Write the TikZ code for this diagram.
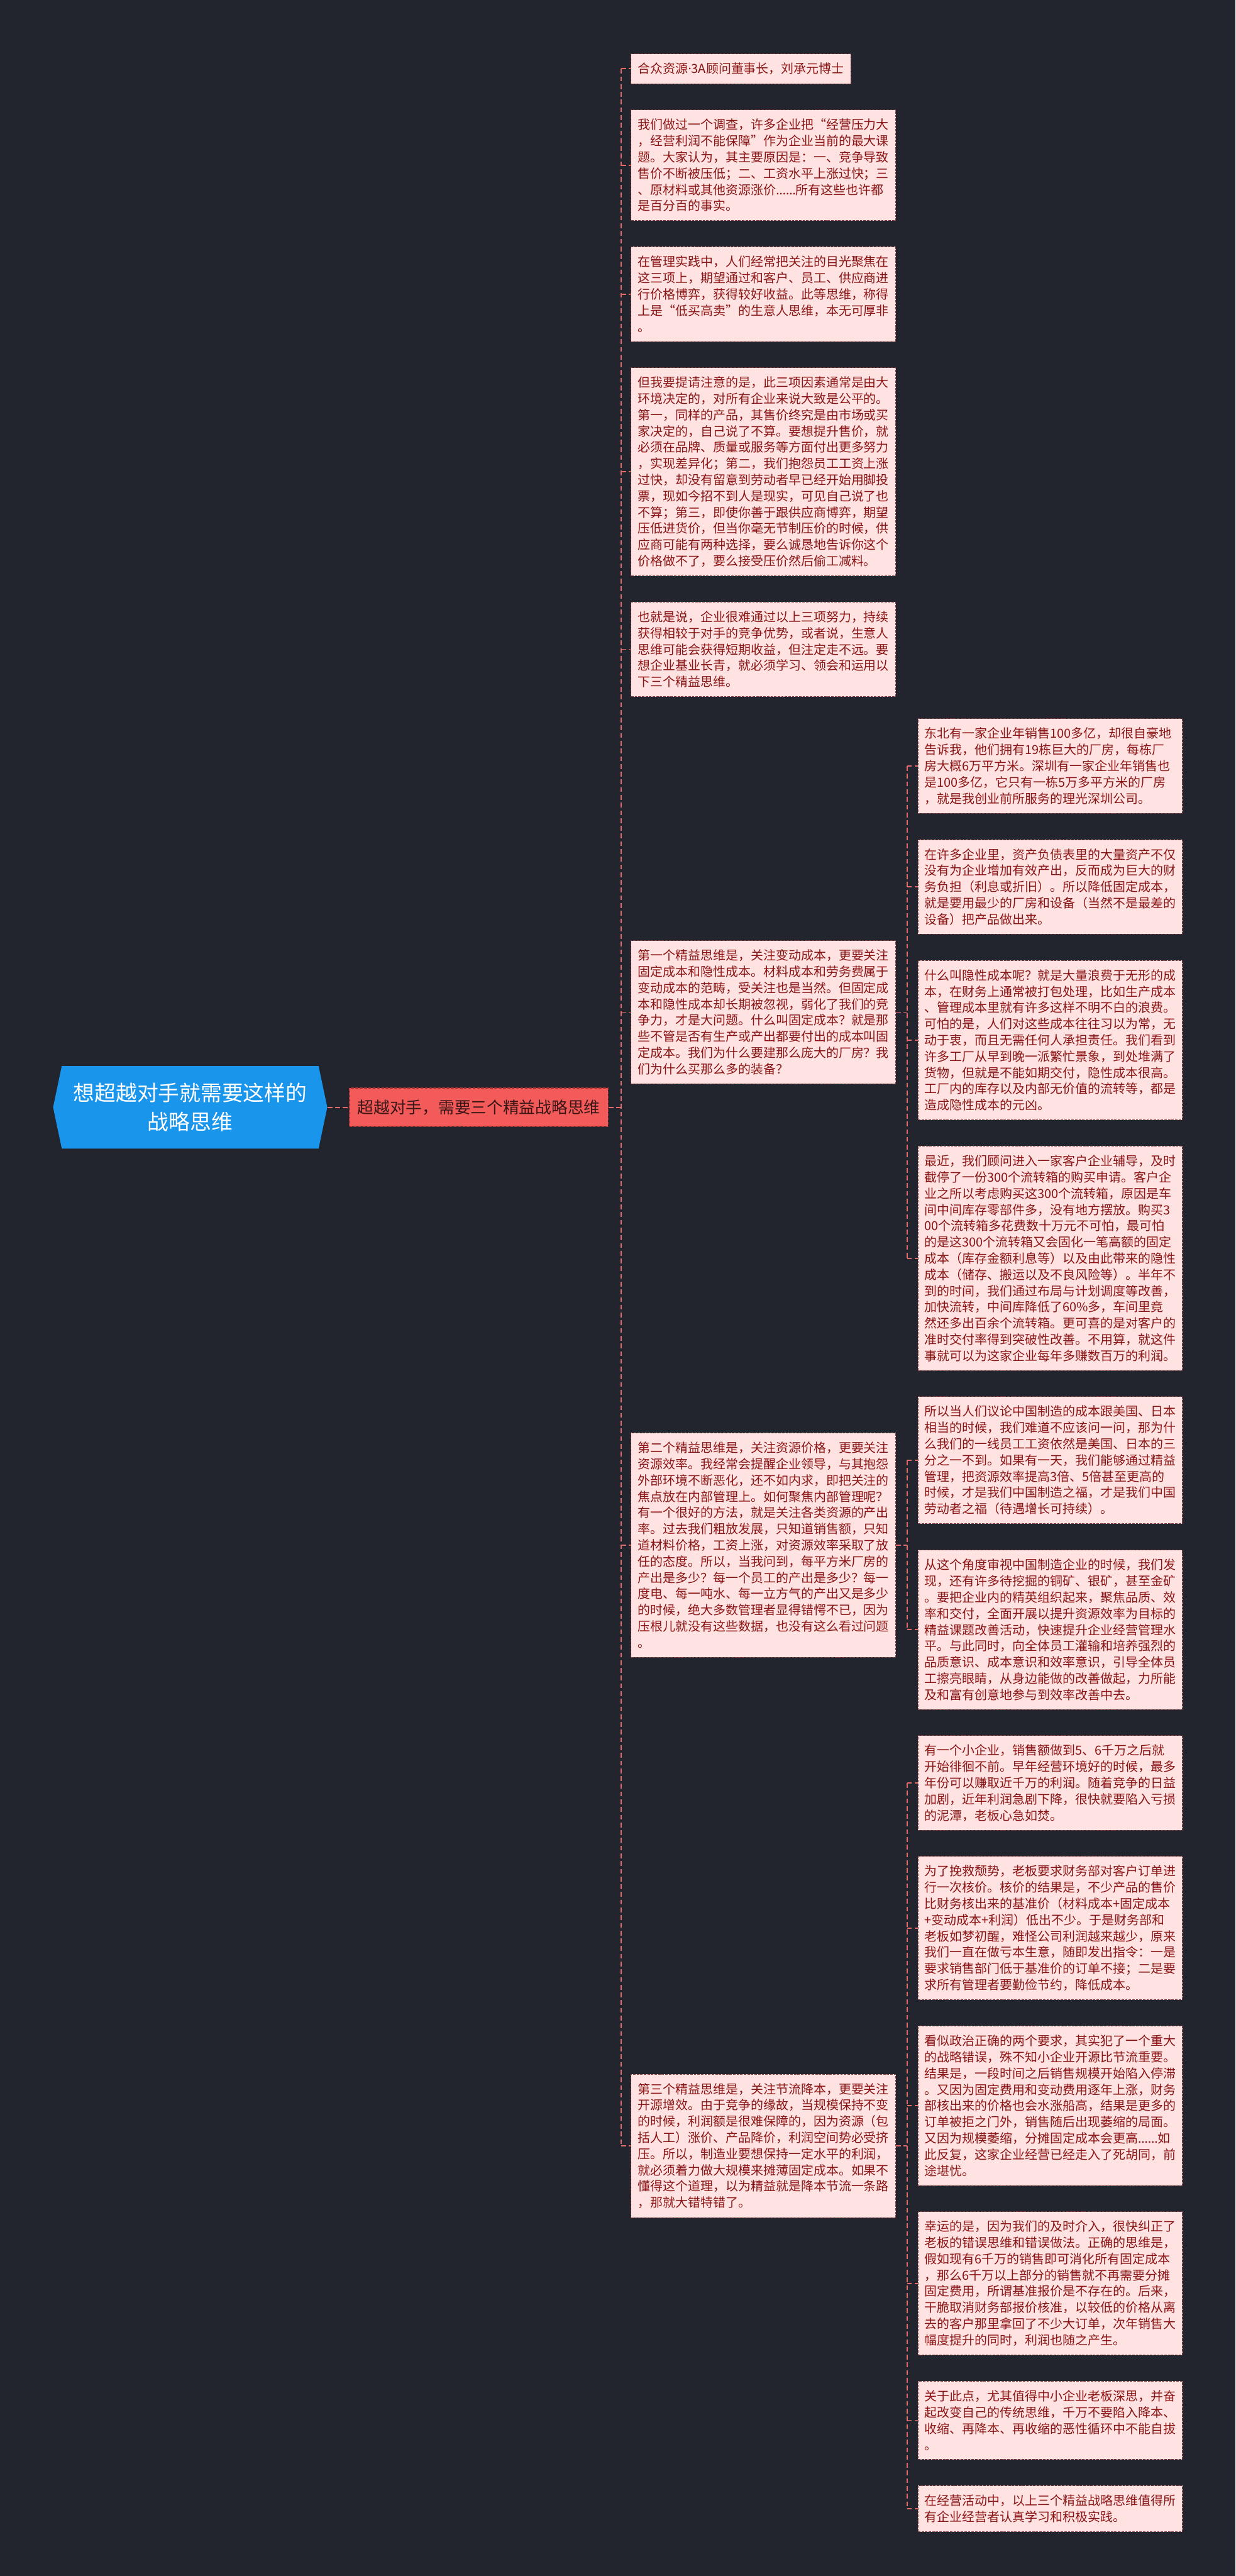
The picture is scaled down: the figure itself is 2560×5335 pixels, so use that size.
\documentclass[tikz,border=0pt]{standalone}
\usepackage{fontspec}
\setmainfont{Noto Sans CJK SC}
\newfontfamily\latinfont{Noto Sans}
\usetikzlibrary{positioning,calc}
\definecolor{mbg}{HTML}{22252E}
\definecolor{mblue}{HTML}{1A95EC}
\definecolor{mred}{HTML}{F35B5B}
\definecolor{mrededge}{HTML}{9E2F2F}
\definecolor{mdark}{HTML}{3A1616}
\definecolor{mline}{HTML}{E36A68}
\definecolor{mpink}{HTML}{FFE3E3}
\definecolor{mmaroon}{HTML}{8B1515}
\definecolor{medge}{HTML}{7E3C3C}

\begin{document}
\begin{tikzpicture}[x=0.5pt,y=-0.5pt,node distance=26.5pt, every node/.style={font=\fontsize{13}{16.8}\selectfont,align=left,inner sep=0pt}, note/.style={fill=mpink,draw=medge,line width=0.6pt,dash pattern=on 2.5pt off 1.2pt,text=mmaroon,inner xsep=7pt}, leaf/.style={note,text width=260pt,minimum height={#1*16.8pt+14pt}}, hub/.style={text=white,font=\fontsize{22}{29.5}\selectfont,align=center,minimum width=284pt,minimum height=85.5pt}, branch/.style={fill=mred,draw=mrededge,line width=0.8pt,dash pattern=on 3pt off 1.5pt,text=mdark,font=\fontsize{16.75}{20}\selectfont,align=center,minimum width=268pt,minimum height=40pt}, link/.style={draw=mline,line width=1.2pt,dash pattern=on 5pt off 3pt}]
\useasboundingbox (0,0) rectangle (2560,5335);
\fill[mbg] (0,0) rectangle (2560,5335);
% first level notes
\node[note,minimum height=30.8pt,anchor=north west] (b1) at (1307,111) {合众资源{\latinfont ·}3A顾问董事长，刘承元博士};
\node[leaf=6,below=of b1.south west,anchor=north west] (b2) {我们做过一个调查，许多企业把“经营压力大\\，经营利润不能保障”作为企业当前的最大课\\题。大家认为，其主要原因是：一、竞争导致\\售价不断被压低；二、工资水平上涨过快；三\\、原材料或其他资源涨价{\latinfont ……}所有这些也许都\\是百分百的事实。};
\node[leaf=5,below=of b2] (b3) {在管理实践中，人们经常把关注的目光聚焦在\\这三项上，期望通过和客户、员工、供应商进\\行价格博弈，获得较好收益。此等思维，称得\\上是“低买高卖”的生意人思维，本无可厚非\\。};
\node[leaf=12,below=of b3] (b4) {但我要提请注意的是，此三项因素通常是由大\\环境决定的，对所有企业来说大致是公平的。\\第一，同样的产品，其售价终究是由市场或买\\家决定的，自己说了不算。要想提升售价，就\\必须在品牌、质量或服务等方面付出更多努力\\，实现差异化；第二，我们抱怨员工工资上涨\\过快，却没有留意到劳动者早已经开始用脚投\\票，现如今招不到人是现实，可见自己说了也\\不算；第三，即使你善于跟供应商博弈，期望\\压低进货价，但当你毫无节制压价的时候，供\\应商可能有两种选择，要么诚恳地告诉你这个\\价格做不了，要么接受压价然后偷工减料。};
\node[leaf=5,below=of b4] (b5) {也就是说，企业很难通过以上三项努力，持续\\获得相较于对手的竞争优势，或者说，生意人\\思维可能会获得短期收益，但注定走不远。要\\想企业基业长青，就必须学习、领会和运用以\\下三个精益思维。};
% second level notes
\node[leaf=5,anchor=north west] (r1) at (1901,1488) {东北有一家企业年销售100多亿，却很自豪地\\告诉我，他们拥有19栋巨大的厂房，每栋厂\\房大概6万平方米。深圳有一家企业年销售也\\是100多亿，它只有一栋5万多平方米的厂房\\，就是我创业前所服务的理光深圳公司。};
\node[leaf=5,below=of r1] (r2) {在许多企业里，资产负债表里的大量资产不仅\\没有为企业增加有效产出，反而成为巨大的财\\务负担（利息或折旧）。所以降低固定成本，\\就是要用最少的厂房和设备（当然不是最差的\\设备）把产品做出来。};
\node[leaf=9,below=of r2] (r3) {什么叫隐性成本呢？就是大量浪费于无形的成\\本，在财务上通常被打包处理，比如生产成本\\、管理成本里就有许多这样不明不白的浪费。\\可怕的是，人们对这些成本往往习以为常，无\\动于衷，而且无需任何人承担责任。我们看到\\许多工厂从早到晚一派繁忙景象，到处堆满了\\货物，但就是不能如期交付，隐性成本很高。\\工厂内的库存以及内部无价值的流转等，都是\\造成隐性成本的元凶。};
\node[leaf=13,below=of r3] (r4) {最近，我们顾问进入一家客户企业辅导，及时\\截停了一份300个流转箱的购买申请。客户企\\业之所以考虑购买这300个流转箱，原因是车\\间中间库存零部件多，没有地方摆放。购买3\\00个流转箱多花费数十万元不可怕，最可怕\\的是这300个流转箱又会固化一笔高额的固定\\成本（库存金额利息等）以及由此带来的隐性\\成本（储存、搬运以及不良风险等）。半年不\\到的时间，我们通过布局与计划调度等改善，\\加快流转，中间库降低了60\%多，车间里竟\\然还多出百余个流转箱。更可喜的是对客户的\\准时交付率得到突破性改善。不用算，就这件\\事就可以为这家企业每年多赚数百万的利润。};
\node[leaf=7,below=of r4] (r5) {所以当人们议论中国制造的成本跟美国、日本\\相当的时候，我们难道不应该问一问，那为什\\么我们的一线员工工资依然是美国、日本的三\\分之一不到。如果有一天，我们能够通过精益\\管理，把资源效率提高3倍、5倍甚至更高的\\时候，才是我们中国制造之福，才是我们中国\\劳动者之福（待遇增长可持续）。};
\node[leaf=9,below=of r5] (r6) {从这个角度审视中国制造企业的时候，我们发\\现，还有许多待挖掘的铜矿、银矿，甚至金矿\\。要把企业内的精英组织起来，聚焦品质、效\\率和交付，全面开展以提升资源效率为目标的\\精益课题改善活动，快速提升企业经营管理水\\平。与此同时，向全体员工灌输和培养强烈的\\品质意识、成本意识和效率意识，引导全体员\\工擦亮眼睛，从身边能做的改善做起，力所能\\及和富有创意地参与到效率改善中去。};
\node[leaf=5,below=of r6] (r7) {有一个小企业，销售额做到5、6千万之后就\\开始徘徊不前。早年经营环境好的时候，最多\\年份可以赚取近千万的利润。随着竞争的日益\\加剧，近年利润急剧下降，很快就要陷入亏损\\的泥潭，老板心急如焚。};
\node[leaf=8,below=of r7] (r8) {为了挽救颓势，老板要求财务部对客户订单进\\行一次核价。核价的结果是，不少产品的售价\\比财务核出来的基准价（材料成本+固定成本\\+变动成本+利润）低出不少。于是财务部和\\老板如梦初醒，难怪公司利润越来越少，原来\\我们一直在做亏本生意，随即发出指令：一是\\要求销售部门低于基准价的订单不接；二是要\\求所有管理者要勤俭节约，降低成本。};
\node[leaf=9,below=of r8] (r9) {看似政治正确的两个要求，其实犯了一个重大\\的战略错误，殊不知小企业开源比节流重要。\\结果是，一段时间之后销售规模开始陷入停滞\\。又因为固定费用和变动费用逐年上涨，财务\\部核出来的价格也会水涨船高，结果是更多的\\订单被拒之门外，销售随后出现萎缩的局面。\\又因为规模萎缩，分摊固定成本会更高{\latinfont ……}如\\此反复，这家企业经营已经走入了死胡同，前\\途堪忧。};
\node[leaf=8,below=of r9] (r10) {幸运的是，因为我们的及时介入，很快纠正了\\老板的错误思维和错误做法。正确的思维是，\\假如现有6千万的销售即可消化所有固定成本\\，那么6千万以上部分的销售就不再需要分摊\\固定费用，所谓基准报价是不存在的。后来，\\干脆取消财务部报价核准，以较低的价格从离\\去的客户那里拿回了不少大订单，次年销售大\\幅度提升的同时，利润也随之产生。};
\node[leaf=4,below=of r10] (r11) {关于此点，尤其值得中小企业老板深思，并奋\\起改变自己的传统思维，千万不要陷入降本、\\收缩、再降本、再收缩的恶性循环中不能自拔\\。};
\node[leaf=2,below=of r11] (r12) {在经营活动中，以上三个精益战略思维值得所\\有企业经营者认真学习和积极实践。};
% the three lean ideas, centred on their notes
\coordinate (m1c) at ($(r1.center)!.5!(r4.center)$); \coordinate (m2c) at ($(r5.center)!.5!(r6.center)$); \coordinate (m3c) at ($(r7.center)!.5!(r12.center)$);
\node[leaf=8] (m1) at (b2 |- m1c) {第一个精益思维是，关注变动成本，更要关注\\固定成本和隐性成本。材料成本和劳务费属于\\变动成本的范畴，受关注也是当然。但固定成\\本和隐性成本却长期被忽视，弱化了我们的竞\\争力，才是大问题。什么叫固定成本？就是那\\些不管是否有生产或产出都要付出的成本叫固\\定成本。我们为什么要建那么庞大的厂房？我\\们为什么买那么多的装备？};
\node[leaf=13] (m2) at (b2 |- m2c) {第二个精益思维是，关注资源价格，更要关注\\资源效率。我经常会提醒企业领导，与其抱怨\\外部环境不断恶化，还不如内求，即把关注的\\焦点放在内部管理上。如何聚焦内部管理呢？\\有一个很好的方法，就是关注各类资源的产出\\率。过去我们粗放发展，只知道销售额，只知\\道材料价格，工资上涨，对资源效率采取了放\\任的态度。所以，当我问到，每平方米厂房的\\产出是多少？每一个员工的产出是多少？每一\\度电、每一吨水、每一立方气的产出又是多少\\的时候，绝大多数管理者显得错愕不已，因为\\压根儿就没有这些数据，也没有这么看过问题\\。};
\node[leaf=8] (m3) at (b2 |- m3c) {第三个精益思维是，关注节流降本，更要关注\\开源增效。由于竞争的缘故，当规模保持不变\\的时候，利润额是很难保障的，因为资源（包\\括人工）涨价、产品降价，利润空间势必受挤\\压。所以，制造业要想保持一定水平的利润，\\就必须着力做大规模来摊薄固定成本。如果不\\懂得这个道理，以为精益就是降本节流一条路\\，那就大错特错了。};
% root and branch
\coordinate (brc) at ($(b1.west)!.5!(m3.west)$); \coordinate (hubx) at (394,0); \coordinate (brx) at (992,0); \coordinate (hubc) at (hubx |- brc);
\fill[mblue] ([shift={(-284,0)}]hubc) -- ([shift={(-266,-85.5)}]hubc) -- ([shift={(266,-85.5)}]hubc) -- ([shift={(284,0)}]hubc) -- ([shift={(266,85.5)}]hubc) -- ([shift={(-266,85.5)}]hubc) -- cycle;
\node[hub] (hub) at (hubc) {想超越对手就需要这样的\\战略思维};
\node[branch] (branch) at (brx |- brc) {超越对手，需要三个精益战略思维};
% connectors
\coordinate (t1) at (1287,0); \coordinate (t2) at (1879,0);
\draw[link] (hub.east) -- (branch.west); \draw[link] (branch.east) -- (t1 |- branch.east); \draw[link] (t1 |- b1.west) -- (t1 |- m3.west);
\draw[link] (t1 |- b1.west) -- (b1.west); \draw[link] (t1 |- b2.west) -- (b2.west); \draw[link] (t1 |- b3.west) -- (b3.west); \draw[link] (t1 |- b4.west) -- (b4.west); \draw[link] (t1 |- b5.west) -- (b5.west);
\draw[link] (t1 |- m1.west) -- (m1.west); \draw[link] (t1 |- m2.west) -- (m2.west); \draw[link] (t1 |- m3.west) -- (m3.west);
\draw[link] (m1.east) -- (t2 |- m1.east); \draw[link] (t2 |- r1.west) -- (t2 |- r4.west);
\draw[link] (t2 |- r1.west) -- (r1.west); \draw[link] (t2 |- r2.west) -- (r2.west); \draw[link] (t2 |- r3.west) -- (r3.west); \draw[link] (t2 |- r4.west) -- (r4.west);
\draw[link] (m2.east) -- (t2 |- m2.east); \draw[link] (t2 |- r5.west) -- (t2 |- r6.west);
\draw[link] (t2 |- r5.west) -- (r5.west); \draw[link] (t2 |- r6.west) -- (r6.west);
\draw[link] (m3.east) -- (t2 |- m3.east); \draw[link] (t2 |- r7.west) -- (t2 |- r12.west);
\draw[link] (t2 |- r7.west) -- (r7.west); \draw[link] (t2 |- r8.west) -- (r8.west); \draw[link] (t2 |- r9.west) -- (r9.west); \draw[link] (t2 |- r10.west) -- (r10.west); \draw[link] (t2 |- r11.west) -- (r11.west); \draw[link] (t2 |- r12.west) -- (r12.west);
\end{tikzpicture}
\end{document}
